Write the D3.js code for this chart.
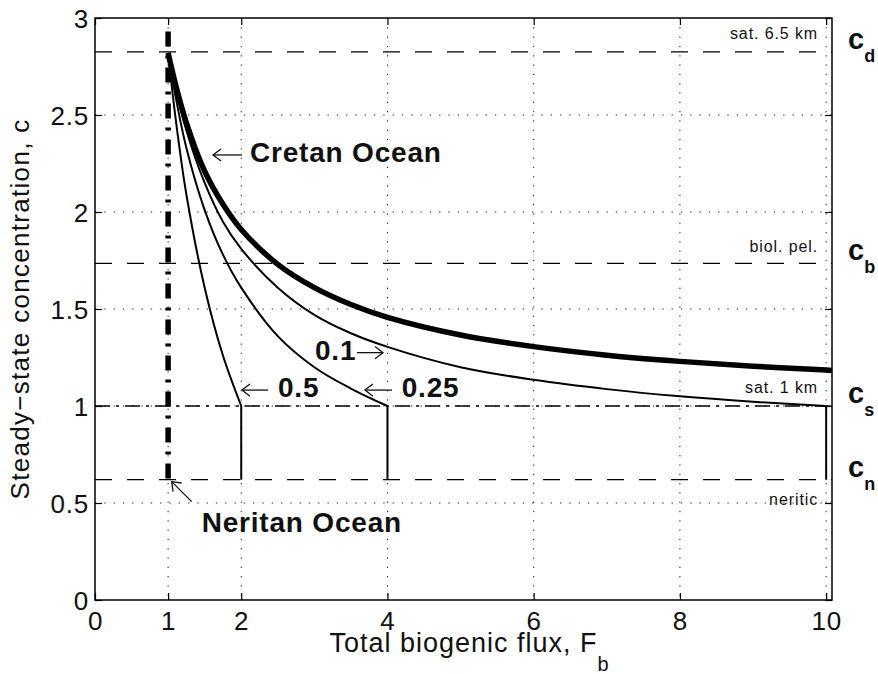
<!DOCTYPE html>
<html lang="en">
<head>
  <meta charset="UTF-8">
  <title>Steady-state concentration vs biogenic flux</title>
  <script src="https://d3js.org/d3.v7.min.js"></script>
  <style>
    body { margin: 0; background: white; }
    svg text { font-family: "Liberation Sans", Arial, Helvetica, sans-serif; fill: #111; }
    .tick line { stroke: #000; stroke-width: 1.2; }
    .domain { display: none; }
  </style>
</head>
<body>
  <svg id="chart" width="878" height="674"></svg>

  <script>
    // ticks
    const xTicks = [0, 1, 2, 4, 6, 8, 10];
    const yTicks = [0, 0.5, 1, 1.5, 2, 2.5, 3];

    // reference concentrations (c_d, c_b, c_s, c_n)
    const levelKeys = ["d", "b", "s", "n"];
    const levelValues = [2.825, 1.735, 1.0, 0.62];
    const levelTags = ["sat. 6.5 km", "biol. pel.", "sat. 1 km", "neritic"];

    // Cretan Ocean curve (thick)
    const cretanF = [1, 1.1, 1.25, 1.5, 1.75, 2, 2.5, 3, 3.5, 4, 5, 6, 7, 8, 9, 10, 10.08];
    const cretanC = [2.82, 2.66, 2.46, 2.21, 2.04, 1.91, 1.73, 1.61, 1.523, 1.457, 1.366, 1.306, 1.262, 1.23, 1.205, 1.185, 1.183];

    // curves labelled 0.1, 0.25, 0.5
    const flux01F = [1, 1.1, 1.25, 1.5, 1.75, 2, 2.5, 3, 3.5, 4, 5, 6, 7, 8, 9, 10];
    const flux01C = [2.82, 2.64, 2.42, 2.15, 1.95, 1.81, 1.61, 1.47, 1.375, 1.305, 1.2, 1.135, 1.087, 1.05, 1.022, 1.0];

    const flux025F = [1, 1.1, 1.25, 1.5, 1.75, 2, 2.5, 3, 3.5, 4];
    const flux025C = [2.82, 2.6, 2.33, 2.01, 1.78, 1.61, 1.36, 1.2, 1.09, 1.0];

    const flux05F = [1, 1.1, 1.25, 1.5, 1.75, 2];
    const flux05C = [2.82, 2.49, 2.09, 1.61, 1.26, 1.0];

    // vertical drops from c_s to c_n
    const dropF = [2, 4, 10];

    // Neritan Ocean (vertical dash-dot at F = 1)
    const neritanF = [1, 1];
    const neritanC = [2.93, 0.62];

    const svg = d3.select("#chart");
    const plot = {left: 95, right: 832, top: 18, bottom: 600};

    const x = d3.scaleLinear().domain([0, 10.08]).range([plot.left, plot.right]);
    const y = d3.scaleLinear().domain([0, 3]).range([plot.bottom, plot.top]);

    // grid
    const grid = svg.append("g");
    grid.selectAll(".gx")
      .data(xTicks.filter(d => d > 0))
      .enter().append("line")
      .attr("x1", d => x(d)).attr("x2", d => x(d))
      .attr("y1", plot.top).attr("y2", plot.bottom)
      .attr("stroke", "#222").attr("stroke-width", 1)
      .attr("stroke-dasharray", "1.3,8");
    grid.selectAll(".gy")
      .data(yTicks.filter(d => d > 0 && d < 3))
      .enter().append("line")
      .attr("x1", plot.left).attr("x2", plot.right)
      .attr("y1", d => y(d)).attr("y2", d => y(d))
      .attr("stroke", "#222").attr("stroke-width", 1)
      .attr("stroke-dasharray", "1.3,8");

    // axes (ticks pointing inward, MATLAB style)
    svg.append("g")
      .attr("transform", `translate(0,${plot.bottom})`)
      .call(d3.axisBottom(x).tickValues(xTicks).tickSize(-7).tickSizeOuter(0))
      .selectAll("text")
      .attr("y", 30).attr("dy", 0)
      .style("font-size", "26px").style("letter-spacing", "0.8px");

    svg.append("g")
      .attr("transform", `translate(${plot.left},0)`)
      .call(d3.axisLeft(y).tickValues(yTicks).tickFormat(d3.format("")).tickSize(-7).tickSizeOuter(0))
      .selectAll("text")
      .attr("x", -6).attr("dy", "0.36em")
      .style("font-size", "26px").style("letter-spacing", "0.8px");

    svg.append("g")
      .attr("transform", `translate(0,${plot.top})`)
      .call(d3.axisTop(x).tickValues(xTicks).tickSize(-7).tickFormat("").tickSizeOuter(0));

    svg.append("g")
      .attr("transform", `translate(${plot.right},0)`)
      .call(d3.axisRight(y).tickValues(yTicks).tickSize(-7).tickFormat("").tickSizeOuter(0));

    // reference level lines
    const levelDash = ["17,15", "17,15", "15,6,3,6", "17,15"];
    svg.selectAll(".level")
      .data(levelValues)
      .enter().append("line")
      .attr("x1", x(0)).attr("x2", x(10.08))
      .attr("y1", d => y(d)).attr("y2", d => y(d))
      .attr("stroke", "#000").attr("stroke-width", 1.3)
      .attr("stroke-dasharray", (d, i) => levelDash[i]);

    const tagOffset = [-13, -11, -13, 25];
    svg.selectAll(".tag")
      .data(levelValues)
      .enter().append("text")
      .attr("x", x(9.89))
      .attr("y", (d, i) => y(d) + tagOffset[i])
      .attr("text-anchor", "end")
      .style("font-size", "16px").style("letter-spacing", "0.9px")
      .text((d, i) => levelTags[i]);

    // c_d, c_b, c_s, c_n labels to the right
    const cLabels = svg.selectAll(".clabel")
      .data(levelValues)
      .enter().append("text")
      .attr("x", 848)
      .attr("y", d => y(d) - 3)
      .style("font-weight", "bold");
    cLabels.append("tspan").style("font-size", "29px").text("c");
    cLabels.append("tspan").attr("dy", 13).style("font-size", "18px")
      .text((d, i) => levelKeys[i]);

    // curves
    const line = (fs, cs) => d3.line()
      .x(i => x(fs[i])).y(i => y(cs[i]))
      .curve(d3.curveCatmullRom.alpha(0.5))(d3.range(fs.length));

    const curves = [
      [flux05F, flux05C, 2],
      [flux025F, flux025C, 2],
      [flux01F, flux01C, 2],
      [cretanF, cretanC, 5.5]
    ];
    svg.selectAll(".curve")
      .data(curves)
      .enter().append("path")
      .attr("d", d => line(d[0], d[1]))
      .attr("fill", "none").attr("stroke", "#000")
      .attr("stroke-width", d => d[2])
      .attr("stroke-linejoin", "round");

    svg.selectAll(".drop")
      .data(dropF)
      .enter().append("line")
      .attr("x1", d => x(d)).attr("x2", d => x(d))
      .attr("y1", y(levelValues[2])).attr("y2", y(levelValues[3]))
      .attr("stroke", "#000").attr("stroke-width", 2);

    svg.append("line")
      .attr("x1", x(neritanF[0])).attr("x2", x(neritanF[1]))
      .attr("y1", y(neritanC[0])).attr("y2", y(neritanC[1]))
      .attr("stroke", "#000").attr("stroke-width", 5.5)
      .attr("stroke-dasharray", "15,9,3,9");

    // frame
    svg.append("rect")
      .attr("x", plot.left).attr("y", plot.top)
      .attr("width", plot.right - plot.left).attr("height", plot.bottom - plot.top)
      .attr("fill", "none").attr("stroke", "#000").attr("stroke-width", 1.5);

    // annotations
    function arrow(x1, y1, x2, y2) {
      const ang = Math.atan2(y2 - y1, x2 - x1);
      const len = 10, spread = 0.65;
      const g = svg.append("g").attr("stroke", "#111").attr("stroke-width", 1.3).attr("fill", "none");
      g.append("line").attr("x1", x1).attr("y1", y1).attr("x2", x2).attr("y2", y2);
      g.append("path").attr("d",
        `M${x2 - len * Math.cos(ang - spread)},${y2 - len * Math.sin(ang - spread)}` +
        `L${x2},${y2}` +
        `L${x2 - len * Math.cos(ang + spread)},${y2 - len * Math.sin(ang + spread)}`);
    }

    function label(fx, cy, txt) {
      svg.append("text")
        .attr("x", x(fx)).attr("y", y(cy))
        .style("font-size", "28px").style("font-weight", "bold")
        .style("letter-spacing", "0.8px")
        .text(txt);
    }

    arrow(x(2.01), y(2.294), x(1.614), y(2.294));
    label(2.12, 2.258, "Cretan Ocean");

    label(3.009, 1.237, "0.1");
    arrow(x(3.583), y(1.275), x(3.939), y(1.275));

    arrow(x(2.366), y(1.082), x(2.01), y(1.082));
    label(2.503, 1.046, "0.5");

    arrow(x(4.062), y(1.082), x(3.692), y(1.082));
    label(4.195, 1.046, "0.25");

    arrow(x(1.322), y(0.507), x(1.049), y(0.61));
    label(1.459, 0.351, "Neritan Ocean");

    // axis titles
    const xt = svg.append("text")
      .attr("x", (plot.left + plot.right) / 2 + 6).attr("y", 652)
      .attr("text-anchor", "middle")
      .style("font-size", "27px").style("letter-spacing", "1px");
    xt.append("tspan").text("Total biogenic flux, F");
    xt.append("tspan").attr("dy", 19).style("font-size", "20px").text("b");

    svg.append("text")
      .attr("transform", `translate(29,${(plot.top + plot.bottom) / 2}) rotate(-90)`)
      .attr("text-anchor", "middle")
      .style("font-size", "26px").style("letter-spacing", "1.3px")
      .text("Steady\u2212state concentration, c");
  </script>
</body>
</html>
